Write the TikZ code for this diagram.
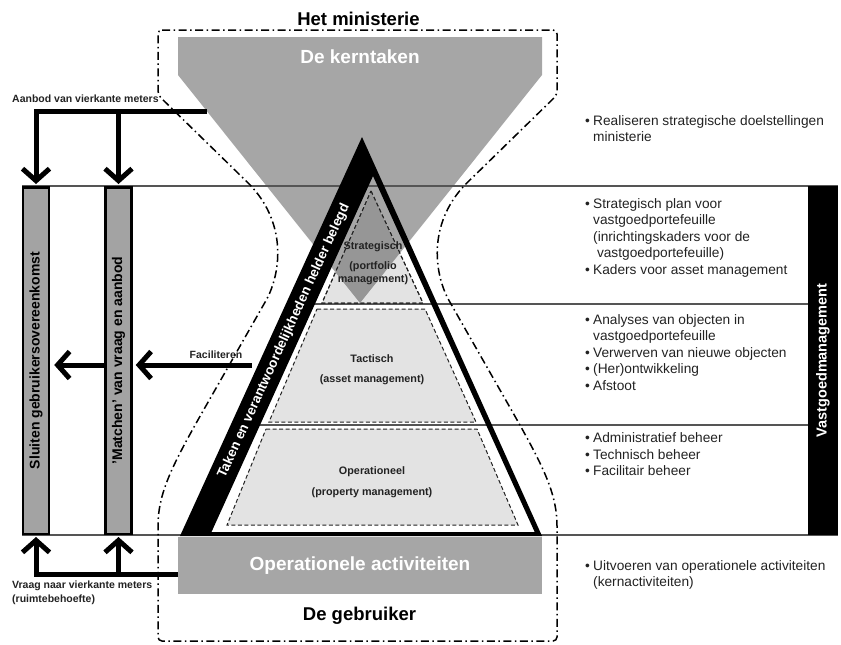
\documentclass[tikz,border=0pt]{standalone}
\usepackage{fontspec}
\usepackage{graphicx}
\setmainfont{Liberation Sans}
\usetikzlibrary{arrows.meta}
\definecolor{kgray}{HTML}{A6A6A6}
\definecolor{bgray}{HTML}{A3A3A3}
\definecolor{lfill}{HTML}{E3E3E3}
\definecolor{ovl}{HTML}{969696}
\definecolor{txt}{HTML}{222222}
\definecolor{rulec}{HTML}{555555}
\newcommand\fsz[2]{\fontsize{#1}{#2}\selectfont}
\newcommand\bl{\makebox[8pt][l]{\textbullet}}
\newcommand\ind{\hspace*{8pt}}
\def\kernpath{(178,37) -- (542,37) -- (542,75) -- (360,303) -- (178,75) -- cycle}
\def\strattri{(371,191) -- (423,303) -- (322,303) -- cycle}
\begin{document}
\begin{tikzpicture}[x=1pt,y=-1pt,
  bigw/.style={font=\bfseries\fsz{19}{22}, text=white},
  titlel/.style={font=\bfseries\fsz{18.5}{22}, text=black, inner sep=0},
  lab/.style={font=\bfseries\fsz{10.5}{14}, text=txt, inner sep=0},
  pyr/.style={font=\bfseries\fsz{10.8}{13}, text=txt, align=center, inner sep=0},
  rtxt/.style={font=\fsz{13.7}{16.6}, text=txt, align=left, anchor=north west, inner sep=0},
  bar/.style={draw=black, line width=2.5pt, fill=bgray, minimum width=26pt, minimum height=346.5pt, inner sep=0, font=\bfseries\fsz{14}{16}},
  vbar/.style={fill=black, minimum width=30pt, minimum height=349pt, inner sep=0, text=white, font=\bfseries\fsz{14.5}{16}},
  flow/.style={line width=5pt, -{Straight Barb[length=12pt,width=27pt]}},
  rowline/.style={draw=rulec, line width=1.2pt},
  outline/.style={line width=1.5pt, dash pattern=on 8pt off 3.5pt on 1.5pt off 3.5pt, rounded corners=4pt},
  dashtri/.style={fill=lfill, draw=txt, line width=1pt, dash pattern=on 4pt off 2.5pt}
]
\useasboundingbox (0,0) rectangle (841,645);

% kerntaken funnel
\fill[kgray] \kernpath;
\node[bigw, anchor=base] (kern) at (360,63) {De kerntaken};

% operationele activiteiten box
\node[fill=kgray, minimum width=364pt, minimum height=57pt, inner sep=0, bigw] (ops) at (360,565.5) {Operationele activiteiten};

% row lines
\draw[rowline] (22,186) -- (838,186);
\draw[rowline] (22,535) -- (838,535);
\draw[rowline] (300,304) -- (808,304);
\draw[rowline] (250,425) -- (808,425);

% dashed levels
\draw[dashtri] \strattri;
\begin{scope}
  \clip \strattri;
  \fill[ovl] \kernpath;
\end{scope}
\draw[dashtri, fill=none] \strattri;
\draw[dashtri] (317,309) -- (425,309) -- (476,422) -- (269,422) -- cycle;
\draw[dashtri] (266,429) -- (477,429) -- (518,525) -- (227,525) -- cycle;

% pyramid
\fill[black, even odd rule] (362,137) -- (542,536) -- (180,536) -- cycle
  (373,176) -- (534.7,532) -- (211.5,532) -- cycle;
\node[rotate=65.5, text=white, font=\bfseries\fsz{13.5}{16}, inner sep=0] (strip) at (284,341) {Taken en verantwoordelijkheden helder belegd};

\node[pyr] (strat) at (373,263) {Strategisch\\[7pt](portfolio\\management)};
\node[pyr] (tact) at (372,370) {Tactisch\\[7pt](asset management)};
\node[pyr] (oper) at (372,482.5) {Operationeel\\[8pt](property management)};

% titles
\node[titlel, anchor=base] (minist) at (358.5,25) {Het ministerie};
\node[titlel, anchor=base] (gebr) at (359.5,620) {De gebruiker};

% bars
\node[bar] (bar1) at (36,360.5) {\rotatebox{90}{Sluiten gebruikersovereenkomst}};
\node[bar] (bar2) at (118.5,360.5) {\rotatebox{90}{'Matchen' van vraag en aanbod}};
\node[vbar] (vm) at (823,360.5) {\rotatebox{90}{Vastgoedmanagement}};

% flows
\coordinate (aanbodStart) at (207,111);
\draw[flow, shorten >=2pt] (aanbodStart) -- (bar1.north |- aanbodStart) -- (bar1.north);
\draw[flow, shorten >=2pt] (bar2.north |- aanbodStart) -- (bar2.north);
\node[lab, anchor=base west] (aanbod) at (12,102) {Aanbod van vierkante meters};

\coordinate (facStart) at (252,365);
\draw[flow, shorten >=3pt] (facStart) -- (bar2.east |- facStart);
\draw[flow, shorten >=4pt] (bar2.west |- facStart) -- (bar1.east |- facStart);
\node[lab, anchor=base] (facil) at (216,358) {Faciliteren};

\coordinate (vraagStart) at (178,574);
\draw[flow, shorten >=2pt] (vraagStart) -- (bar1.south |- vraagStart) -- (bar1.south);
\draw[flow, shorten >=2pt] (bar2.south |- vraagStart) -- (bar2.south);
\node[lab, anchor=north west, align=left] (vraag) at (12,581) {Vraag naar vierkante meters\\(ruimtebehoefte)};

% ministry outline
\draw[outline] (158,30) -- (557,30) -- (557,95) -- (472,178)
  .. controls (432,216) and (432,262) .. (447,297) -- (500,390)
  .. controls (540,460) and (557,490) .. (557,530) -- (557,641) -- (158,641) -- (158,530)
  .. controls (158,490) and (175,460) .. (215,390) -- (268,297)
  .. controls (283,262) and (283,216) .. (243,178) -- (158,95) -- cycle;

% right column
\node[rtxt] (ta) at (585,115) {\bl Realiseren strategische doelstellingen\\\ind ministerie};
\node[rtxt] (tb) at (585,198) {\bl Strategisch plan voor\\\ind vastgoedportefeuille\\\ind (inrichtingskaders voor de\\\ind\ vastgoedportefeuille)\\\bl Kaders voor asset management};
\node[rtxt] (tc) at (585,314) {\bl Analyses van objecten in\\\ind vastgoedportefeuille\\\bl Verwerven van nieuwe objecten\\\bl (Her)ontwikkeling\\\bl Afstoot};
\node[rtxt] (td) at (585,432.5) {\bl Administratief beheer\\\bl Technisch beheer\\\bl Facilitair beheer};
\node[rtxt] (te) at (585,560) {\bl Uitvoeren van operationele activiteiten\\\ind (kernactiviteiten)};
\end{tikzpicture}
\end{document}
